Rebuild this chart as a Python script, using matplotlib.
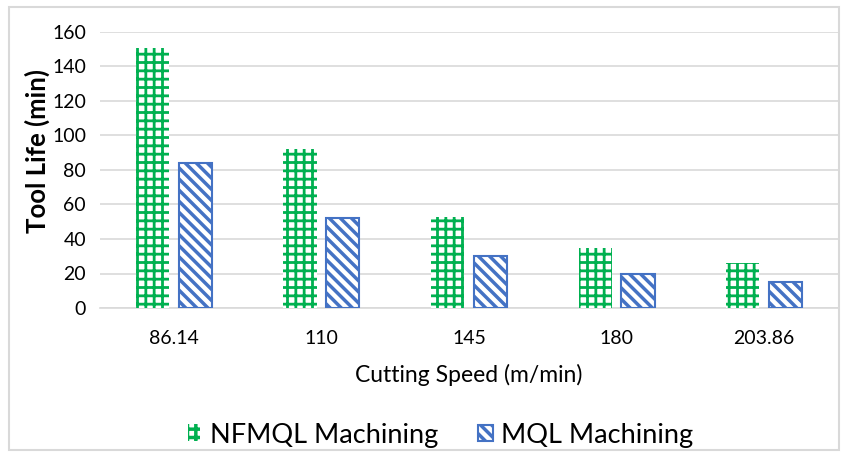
import numpy as np
import matplotlib.pyplot as plt
from matplotlib.patches import Rectangle
from matplotlib.legend_handler import HandlerPatch

speeds = ["86.14", "110", "145", "180", "203.86"]
nfmql_life = [151, 92, 53, 35, 26]
mql_life = [84, 52, 30, 20, 15]

green = "#00B050"
blue = "#4472C4"
grid_gray = "#D9D9D9"

plt.rcParams["font.family"] = ["Lato", "DejaVu Sans"]

fig = plt.figure(figsize=(8.41, 4.53), dpi=100)
ax = fig.add_axes([100 / 841, 145 / 453, 738 / 841, 276 / 453])

x = np.arange(len(speeds))
w = 0.225
off = 0.145

plt.rcParams["hatch.linewidth"] = 2.0
b1 = ax.bar(x - off, nfmql_life, w, color="white", edgecolor=green,
            linewidth=0, hatch="++", zorder=3)
plt.rcParams["hatch.linewidth"] = 2.5
b2 = ax.bar(x + off, mql_life, w, color="white", edgecolor=blue,
            linewidth=1.5, hatch="\\\\\\", zorder=3)
for p in b1:
    if hasattr(p, "set_hatch_linewidth"):
        p.set_hatch_linewidth(2.0)
for p in b2:
    if hasattr(p, "set_hatch_linewidth"):
        p.set_hatch_linewidth(2.5)

ax.set_xlim(-0.5, len(speeds) - 0.5)
ax.set_ylim(0, 160)
ax.set_yticks(range(0, 161, 20))
ax.set_xticks(x)
ax.set_xticklabels(speeds)
ax.yaxis.grid(True, color=grid_gray, linewidth=1.2, zorder=0)
ax.set_axisbelow(True)
for s in ["top", "right", "left"]:
    ax.spines[s].set_visible(False)
ax.spines["bottom"].set_color(grid_gray)
ax.spines["bottom"].set_linewidth(1.2)
ax.tick_params(axis="both", length=0, labelsize=14, colors="black")
ax.tick_params(axis="y", pad=10)
ax.tick_params(axis="x", pad=16)

ax.set_xlabel("Cutting Speed (m/min)", fontsize=16.5, labelpad=12)
ax.set_ylabel("Tool Life (min)", fontsize=18.5, fontweight="bold")
ax.yaxis.set_label_coords(-0.068, 0.569)


# small grid swatch for the first series, square swatch for the second
def grid_swatch(legend, orig_handle, xdescent, ydescent, width, height, fontsize):
    return Rectangle((width * 0.1 - xdescent, -ydescent - height * 0.05),
                     width * 0.8, height * 1.1)


def square_swatch(legend, orig_handle, xdescent, ydescent, width, height, fontsize):
    return Rectangle((-xdescent, -ydescent), width, height)


h1, h2 = b1.patches[0], b2.patches[0]
ax.legend([h1, h2], ["NFMQL Machining", "MQL Machining"],
          loc="center", bbox_to_anchor=(440 / 841, 18 / 453),
          bbox_transform=fig.transFigure, ncol=2, frameon=False,
          fontsize=19.5, handlelength=0.55, handleheight=0.5,
          handletextpad=0.3, columnspacing=1.5, borderaxespad=0,
          handler_map={h1: HandlerPatch(patch_func=grid_swatch),
                       h2: HandlerPatch(patch_func=square_swatch)})

# light border round the whole chart
fig.patches.append(Rectangle((9 / 841, 3 / 453), 830 / 841, 443 / 453,
                             transform=fig.transFigure, fill=False,
                             edgecolor=grid_gray, linewidth=1.5))

fig.savefig("out.png", dpi=100)
